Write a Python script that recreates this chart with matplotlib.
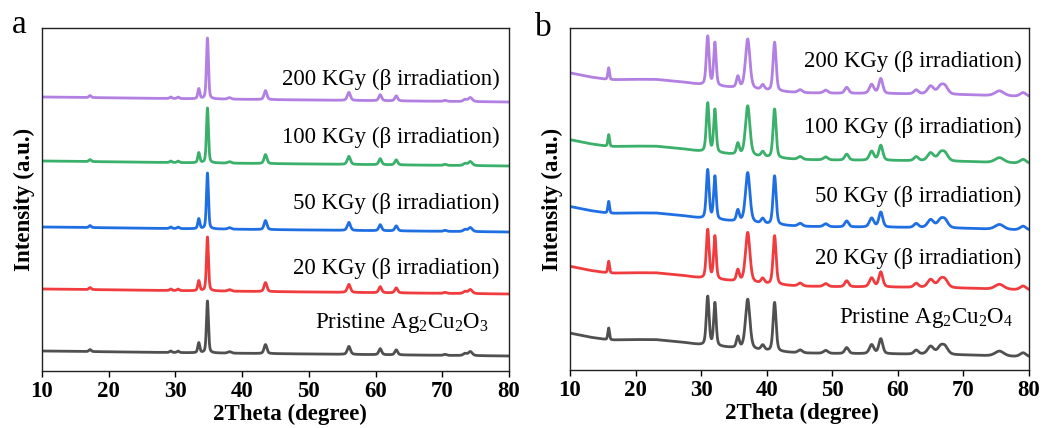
import numpy as np
import matplotlib.pyplot as plt

plt.rcParams['font.family'] = ['Liberation Serif', 'DejaVu Serif']
plt.rcParams['mathtext.fontset'] = 'custom'
plt.rcParams['mathtext.rm'] = 'Liberation Serif'
plt.rcParams['mathtext.it'] = 'Liberation Serif:italic'

# sample names / colours (bottom to top)
labels_a = [r'Pristine Ag$_2$Cu$_2$O$_3$', '20 KGy (β irradiation)', '50 KGy (β irradiation)',
            '100 KGy (β irradiation)', '200 KGy (β irradiation)']
labels_b = [r'Pristine Ag$_2$Cu$_2$O$_4$', '20 KGy (β irradiation)', '50 KGy (β irradiation)',
            '100 KGy (β irradiation)', '200 KGy (β irradiation)']
colors = ['#505050', '#f03c3e', '#1f6fe3', '#3bb06a', '#b27fe2']

# panel a: Ag2Cu2O3 reflections
a_pos = [17.2, 29.3, 30.4, 33.5, 34.8, 38.1, 43.5, 56.0, 60.7, 63.1, 70.4, 73.4, 74.2]
a_height = [2, 1.5, 1.5, 10, 52, 1.5, 9, 8, 6, 5, 1, 2, 4]
a_fwhm = [0.4, 0.4, 0.4, 0.35, 0.35, 0.6, 0.5, 0.55, 0.5, 0.5, 0.5, 0.6, 0.7]
a_main = [52, 54, 56, 55, 61]          # height of the 34.8 deg peak per sample
a_offset = [20, 82, 144, 210, 274]
a_bg_x = [10, 35, 80]
a_bg_y = [0, -2, -5]

# panel b: Ag2Cu2O4 reflections
b_pos = [15.9, 31.0, 32.1, 35.6, 37.1, 39.4, 41.2, 45.1, 49.0, 52.2, 56.0, 57.4,
         62.8, 65.0, 66.5, 67.2, 75.5, 79.1]
b_height = [12, 49, 43, 11, 50, 5, 49, 3, 3, 6, 9, 15, 4, 8, 7, 7, 5, 4]
b_fwhm = [0.3, 0.5, 0.45, 0.5, 0.8, 0.6, 0.55, 0.8, 0.8, 0.7, 0.8, 0.7,
          0.8, 1.1, 1.1, 1.1, 1.6, 1.1]
b_offset = [0, 67, 127, 194, 261]
b_bg_x = [10, 13, 16, 19, 23, 27, 30, 35, 40, 45, 50, 60, 70, 80]
b_bg_y = [37, 33, 30, 30.5, 30.5, 28, 25, 22, 19, 17, 16.5, 16, 15, 13]

# label anchor (right end x, centre y) per sample
a_txt_x = [76.9, 78.6, 78.6, 78.6, 78.6]
a_txt_y = [48, 103, 168, 234, 292]
b_txt_x = [77.6, 78.9, 78.9, 78.9, 78.9]
b_txt_y = [52, 112, 174, 243, 309]

x = np.linspace(10, 80, 3500)


def peak(x, c, h, w):
    """pseudo-Voigt line of height h, fwhm w"""
    g = np.exp(-4 * np.log(2) * (x - c) ** 2 / w ** 2)
    l = 1 / (1 + 4 * (x - c) ** 2 / w ** 2)
    return h * (0.6 * g + 0.4 * l)


def pattern(pos, height, fwhm, bgx, bgy):
    y = np.interp(x, bgx, bgy)
    for c, h, w in zip(pos, height, fwhm):
        y = y + peak(x, c, h, w)
    return y


fig = plt.figure(figsize=(10.48, 4.28), dpi=100)
ax1 = fig.add_axes([42 / 1048, 1 - 371 / 428, 467 / 1048, 343 / 428])
ax2 = fig.add_axes([570 / 1048, 1 - 370 / 428, 459 / 1048, 342 / 428])

for i in range(5):
    h = list(a_height)
    h[a_pos.index(34.8)] = a_main[i]
    y = pattern(a_pos, h, a_fwhm, a_bg_x, a_bg_y) + a_offset[i]
    ax1.plot(x, y, color=colors[i], lw=2.0)
    ax1.text(a_txt_x[i], a_txt_y[i], labels_a[i], ha='right', va='center', fontsize=16.5)

    y = pattern(b_pos, b_height, b_fwhm, b_bg_x, b_bg_y) + b_offset[i]
    ax2.plot(x, y, color=colors[i], lw=2.0)
    ax2.text(b_txt_x[i], b_txt_y[i], labels_b[i], ha='right', va='center', fontsize=16.5)

for ax in (ax1, ax2):
    ax.set_xlim(10, 80)
    ax.set_ylim(0, 343)
    ax.set_xticks(np.arange(10, 81, 10))
    ax.set_yticks([])
    ax.tick_params(axis='x', direction='out', length=4, width=1, labelsize=16.5, pad=3)
    for t in ax.get_xticklabels():
        t.set_fontweight('bold')
    for s in ax.spines.values():
        s.set_linewidth(1)
        s.set_color('#222222')
    ax.set_xlabel('2Theta (degree)', fontsize=16.5, fontweight='bold', labelpad=0)
    ax.set_ylabel('Intensity (a.u.)', fontsize=16.5, fontweight='bold', labelpad=5)

ax1.xaxis.set_label_coords(0.53, -0.096, transform=ax1.transAxes)
ax1.xaxis.label.set_va('top')
ax2.xaxis.set_label_coords(0.505, -0.096, transform=ax2.transAxes)
ax2.xaxis.label.set_va('top')

fig.text(12 / 1048, 1 - 33 / 428, 'a', fontsize=24)
fig.text(535 / 1048, 1 - 36 / 428, 'b', fontsize=24)

fig.savefig('out.png', dpi=100)
